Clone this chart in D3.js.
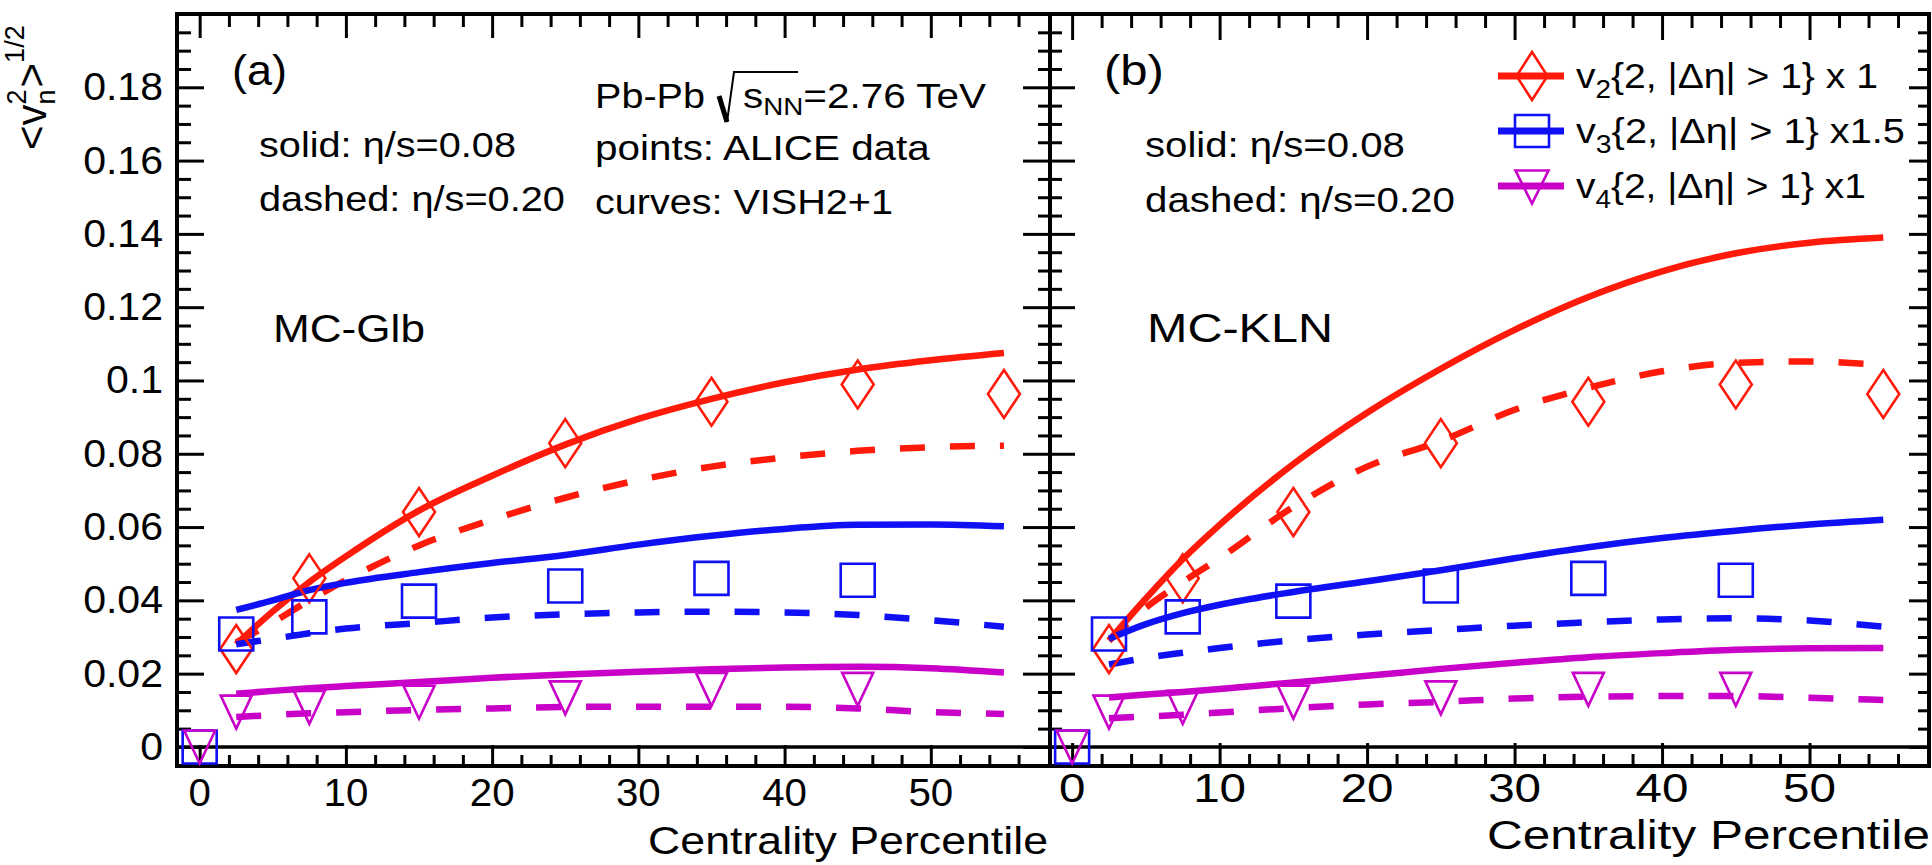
<!DOCTYPE html>
<html>
<head>
<meta charset="utf-8">
<script src="https://cdn.jsdelivr.net/npm/d3@7"></script>
<style>
  html, body { margin: 0; padding: 0; background: #fff; }
  svg { display: block; font-family: "Liberation Sans", Arial, Helvetica, sans-serif; }
</style>
</head>
<body>
<svg id="chart" width="1932" height="865"></svg>
<script>
// centrality grid of the hydro curves
const curveCent = [2.5, 5, 7.5, 10, 15, 20, 25, 30, 35, 40, 45, 50, 55];

// MC-Glb, VISH2+1 (solid eta/s=0.08, dashed eta/s=0.20)
const glbV2Solid = [0.028, 0.037, 0.045, 0.052, 0.0645, 0.074, 0.0825, 0.0895, 0.095, 0.0995, 0.103, 0.1055, 0.1075];
const glbV2Dash  = [0.0285, 0.034, 0.04, 0.0455, 0.055, 0.062, 0.068, 0.0728, 0.0765, 0.079, 0.0808, 0.0818, 0.0822];
const glbV3Solid = [0.0374, 0.040, 0.0428, 0.0448, 0.0477, 0.0502, 0.0524, 0.0552, 0.0576, 0.0595, 0.0606, 0.0607, 0.0602];
const glbV3Dash  = [0.028, 0.0295, 0.031, 0.0323, 0.0338, 0.0353, 0.0362, 0.0367, 0.0369, 0.0367, 0.036, 0.0346, 0.0328];
const glbV4Solid = [0.0145, 0.0153, 0.016, 0.0166, 0.0177, 0.0189, 0.0198, 0.0205, 0.0212, 0.0217, 0.0219, 0.0215, 0.0203];
const glbV4Dash  = [0.0082, 0.0087, 0.0092, 0.0095, 0.0101, 0.0105, 0.0109, 0.011, 0.011, 0.011, 0.0105, 0.0095, 0.009];

// MC-KLN
const klnV2Solid = [0.029, 0.0405, 0.0512, 0.0606, 0.0772, 0.0912, 0.1032, 0.1138, 0.1228, 0.1298, 0.1347, 0.1376, 0.139];
const klnV2Dash  = [0.029, 0.038, 0.045, 0.0515, 0.0655, 0.0765, 0.0835, 0.092, 0.098, 0.1025, 0.1048, 0.1052, 0.1042];
const klnV3Solid = [0.0295, 0.0335, 0.0365, 0.0388, 0.0423, 0.0452, 0.0482, 0.0515, 0.0545, 0.057, 0.059, 0.0607, 0.062];
const klnV3Dash  = [0.0225, 0.0243, 0.0257, 0.027, 0.0291, 0.0307, 0.0319, 0.0331, 0.034, 0.0348, 0.0351, 0.0345, 0.0328];
const klnV4Solid = [0.0135, 0.0143, 0.015, 0.0158, 0.0176, 0.0194, 0.0213, 0.023, 0.0245, 0.0256, 0.0265, 0.0269, 0.027];
const klnV4Dash  = [0.0078, 0.0083, 0.0088, 0.0094, 0.0106, 0.0116, 0.0123, 0.0132, 0.0137, 0.0139, 0.0139, 0.0134, 0.0128];

// ALICE data
const v2Cent = [2.5, 7.5, 15, 25, 35, 45, 55];
const v2Data = [0.0267, 0.046, 0.0641, 0.0829, 0.0942, 0.0989, 0.0963];
const v3Cent = [0, 2.5, 7.5, 15, 25, 35, 45];
const v3Data = [0, 0.0308, 0.0355, 0.0398, 0.0439, 0.046, 0.0455];
const v4Cent = [0, 2.5, 7.5, 15, 25, 35, 45];
const v4Data = [0, 0.0095, 0.0108, 0.0122, 0.0134, 0.0157, 0.0157];

// ticks
const xMajor = [0, 10, 20, 30, 40, 50];
const xMinor = d3.range(2, 58, 2).filter(v => v % 10 !== 0);
const yMajor = [0, 0.02, 0.04, 0.06, 0.08, 0.1, 0.12, 0.14, 0.16, 0.18, 0.2];
const yMinor = d3.range(0.005, 0.2, 0.005).filter(v => Math.abs(v / 0.02 - Math.round(v / 0.02)) > 1e-6);
const yLabels = ["0", "0.02", "0.04", "0.06", "0.08", "0.1", "0.12", "0.14", "0.16", "0.18"];

const RED = "#ff1a0a", BLUE = "#1010f5", MAG = "#c800c8";

const svg = d3.select("#chart");
const y = d3.scaleLinear().domain([-0.0052, 0.2]).range([766, 14]);

// text, stretched sideways like the source figure
function label(parent, x, yy, size, parts, opt = {}) {
  const t = parent.append("text")
    .attr("font-size", size)
    .attr("text-anchor", opt.anchor || "start")
    .attr("fill", "#000");
  if (typeof parts === "string") t.text(parts);
  else parts.forEach(p => {
    const s = t.append("tspan").text(p.t);
    if (p.dy) s.attr("dy", p.dy);
    if (p.dx) s.attr("dx", p.dx);
    if (p.fs) s.attr("font-size", p.fs);
  });
  let k = opt.sx || 1.12;
  if (opt.width) k = opt.width / t.node().getComputedTextLength();
  t.attr("transform", `translate(${x},${yy}) scale(${k},1)`);
  return t;
}

// marker shapes
const diamond = (w, h) => `M0,${-h / 2}L${w / 2},0L0,${h / 2}L${-w / 2},0Z`;
const square = (w, h) => `M${-w / 2},${-h / 2}H${w / 2}V${h / 2}H${-w / 2}Z`;
const triDown = (w, h) => `M${-w / 2},${-h / 2}H${w / 2}L0,${h / 2}Z`;

function tickSet(g, axisFn, scale, values, size, transform) {
  g.append("g")
    .attr("transform", transform)
    .call(axisFn(scale).tickValues(values).tickSize(size).tickSizeOuter(0).tickFormat(""))
    .call(a => a.select(".domain").remove())
    .selectAll("line").attr("stroke", "#000").attr("stroke-width", 3);
}

const panels = [
  {
    x: d3.scaleLinear().domain([-1.55, 58.15]).range([177, 1050]),
    curves: [
      [glbV2Solid, RED, false], [glbV2Dash, RED, true],
      [glbV3Solid, BLUE, false], [glbV3Dash, BLUE, true],
      [glbV4Solid, MAG, false], [glbV4Dash, MAG, true]
    ],
    tick: { top: [24, 13], bottom: [21, 11], left: [27, 14], right: [27, 12] },
    xLab: { size: 38, base: 806, sx: 1.06 },
    title: { end: 1048, base: 854, size: 39, width: 400 }
  },
  {
    x: d3.scaleLinear().domain([-1.5, 58.1]).range([1050, 1929]),
    curves: [
      [klnV2Solid, RED, false], [klnV2Dash, RED, true],
      [klnV3Solid, BLUE, false], [klnV3Dash, BLUE, true],
      [klnV4Solid, MAG, false], [klnV4Dash, MAG, true]
    ],
    tick: { top: [26, 14], bottom: [23, 12], left: [25, 12], right: [20, 11] },
    xLab: { size: 41, base: 802, sx: 1.16 },
    title: { end: 1930, base: 849, size: 40, width: 443 }
  }
];

panels.forEach(p => {
  const g = svg.append("g");
  const x = p.x;
  const [x0, x1] = x.range();
  const [yb, yt] = y.range();

  // zero line
  g.append("line")
    .attr("x1", x0).attr("x2", x1)
    .attr("y1", y(0)).attr("y2", y(0))
    .attr("stroke", "#000").attr("stroke-width", 3.5);

  // ticks on all four sides, pointing inward
  tickSet(g, d3.axisBottom, x, xMajor, -p.tick.bottom[0], `translate(0,${yb})`);
  tickSet(g, d3.axisBottom, x, xMinor, -p.tick.bottom[1], `translate(0,${yb})`);
  tickSet(g, d3.axisTop, x, xMajor, -p.tick.top[0], `translate(0,${yt})`);
  tickSet(g, d3.axisTop, x, xMinor, -p.tick.top[1], `translate(0,${yt})`);
  tickSet(g, d3.axisLeft, y, yMajor, -p.tick.left[0], `translate(${x0},0)`);
  tickSet(g, d3.axisLeft, y, yMinor, -p.tick.left[1], `translate(${x0},0)`);
  tickSet(g, d3.axisRight, y, yMajor, -p.tick.right[0], `translate(${x1},0)`);
  tickSet(g, d3.axisRight, y, yMinor, -p.tick.right[1], `translate(${x1},0)`);

  // frame
  g.append("rect")
    .attr("x", x0).attr("y", yt)
    .attr("width", x1 - x0).attr("height", yb - yt)
    .attr("fill", "none").attr("stroke", "#000").attr("stroke-width", 4);

  // x tick labels
  xMajor.forEach(v => label(g, x(v), p.xLab.base, p.xLab.size, String(v), { anchor: "middle", sx: p.xLab.sx }));
  label(g, p.title.end, p.title.base, p.title.size, "Centrality Percentile", { anchor: "end", width: p.title.width });

  // hydro curves
  const line = d3.line()
    .x((d, i) => x(curveCent[i]))
    .y(d => y(d))
    .curve(d3.curveMonotoneX);
  p.curves.forEach(([vals, col, dashed]) => {
    g.append("path")
      .attr("d", line(vals))
      .attr("fill", "none")
      .attr("stroke", col)
      .attr("stroke-width", 6.5)
      .attr("stroke-dasharray", dashed ? "25,25" : null);
  });

  // ALICE points
  const pts = [
    [v2Cent, v2Data, diamond(32, 48), RED],
    [v3Cent, v3Data, square(34, 33), BLUE],
    [v4Cent, v4Data, triDown(31, 33), MAG]
  ];
  pts.forEach(([cs, vs, shape, col]) => {
    g.selectAll(null)
      .data(vs)
      .enter()
      .append("path")
      .attr("d", shape)
      .attr("transform", (d, i) => `translate(${x(cs[i])},${y(d)})`)
      .attr("fill", "none")
      .attr("stroke", col)
      .attr("stroke-width", 2.6);
  });
});

// y tick labels (left panel only)
yLabels.forEach((s, i) => label(svg, 163, y(yMajor[i]) + 13, 38, s, { anchor: "end", sx: 1.08 }));

// y title <v_n^2>^{1/2}
const yt = svg.append("text")
  .attr("transform", "translate(46,150) rotate(-90)")
  .attr("font-size", 42)
  .attr("fill", "#000");
yt.append("tspan").text("<v");
yt.append("tspan").text("n").attr("font-size", 27).attr("dy", 9);
yt.append("tspan").text("2").attr("font-size", 27).attr("dx", -15).attr("dy", -29);
yt.append("tspan").text(">").attr("dy", 20).attr("dx", 2);
yt.append("tspan").text("1/2").attr("font-size", 27).attr("dy", -22);

// annotations, panel (a)
label(svg, 232, 85, 42, "(a)", { width: 55 });
label(svg, 259, 157, 35, "solid: η/s=0.08", { width: 257 });
label(svg, 259, 211, 35, "dashed: η/s=0.20", { width: 306 });
label(svg, 595, 108, 35, "Pb-Pb", { width: 110 });
svg.append("path").attr("d", "M719,96L727,122").attr("stroke", "#000").attr("stroke-width", 5).attr("fill", "none");
svg.append("path").attr("d", "M727,122L734,72H798").attr("stroke", "#000").attr("stroke-width", 2).attr("fill", "none");
label(svg, 743, 108, 35, [{ t: "s" }, { t: "NN", fs: 24, dy: 7 }, { t: "=2.76 TeV", dy: -7 }], { width: 243 });
label(svg, 595, 160, 35, "points: ALICE data", { width: 335 });
label(svg, 595, 214, 35, "curves: VISH2+1", { width: 298 });
label(svg, 273, 342, 39, "MC-Glb", { width: 152 });

// annotations, panel (b)
label(svg, 1104, 85, 42, "(b)", { width: 60 });
label(svg, 1145, 157, 35, "solid: η/s=0.08", { width: 260 });
label(svg, 1145, 212, 35, "dashed: η/s=0.20", { width: 310 });
label(svg, 1147, 342, 40, "MC-KLN", { width: 186 });

// legend
const legendRows = [
  { col: RED, shape: diamond(31, 48), sub: "2", rest: "{2, |Δη| > 1} x 1", width: 302 },
  { col: BLUE, shape: square(34, 32), sub: "3", rest: "{2, |Δη| > 1} x1.5", width: 329 },
  { col: MAG, shape: triDown(33, 33), sub: "4", rest: "{2, |Δη| > 1} x1", width: 290 }
];
legendRows.forEach((r, i) => {
  const ry = 76 + i * 55;
  svg.append("line")
    .attr("x1", 1498).attr("x2", 1564)
    .attr("y1", ry).attr("y2", ry)
    .attr("stroke", r.col).attr("stroke-width", 7);
  svg.append("path")
    .attr("d", r.shape)
    .attr("transform", `translate(1532,${ry + (i === 2 ? 1 : 0)})`)
    .attr("fill", "none").attr("stroke", r.col).attr("stroke-width", 2.6);
  label(svg, 1576, ry + 12, 35, [{ t: "v" }, { t: r.sub, fs: 25, dy: 10 }, { t: r.rest, dy: -10 }], { width: r.width });
});
</script>
</body>
</html>
